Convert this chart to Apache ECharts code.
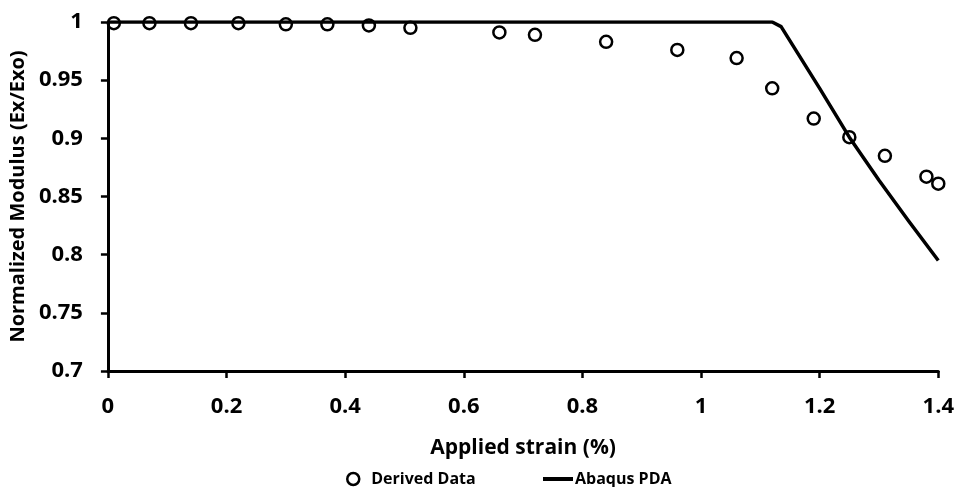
<!DOCTYPE html>
<html>
<head>
<meta charset="utf-8">
<script src="https://cdn.jsdelivr.net/npm/echarts@6/dist/echarts.min.js"></script>
<style>html,body{margin:0;padding:0;background:#fff;}#c{width:957px;height:487px;}</style>
</head>
<body>
<div id="c"></div>
<script>
const derivedX = [0.01, 0.07, 0.14, 0.22, 0.30, 0.37, 0.44, 0.51, 0.66, 0.72, 0.84, 0.96, 1.06, 1.12, 1.19, 1.25, 1.31, 1.38, 1.40];
const derivedY = [0.999, 0.999, 0.999, 0.999, 0.998, 0.998, 0.997, 0.995, 0.991, 0.989, 0.983, 0.976, 0.969, 0.943, 0.917, 0.901, 0.885, 0.867, 0.861];
const abaqusX = [0, 1.12, 1.135, 1.2, 1.25, 1.3, 1.35, 1.4];
const abaqusY = [1, 1, 0.996, 0.943, 0.901, 0.864, 0.829, 0.795];
const xTicks = [0, 0.2, 0.4, 0.6, 0.8, 1, 1.2, 1.4];
const yTicks = [0.7, 0.75, 0.8, 0.85, 0.9, 0.95, 1];

const FONT = '"Open Sans", "DejaVu Sans", sans-serif';
const chart = echarts.init(document.getElementById('c'), null, {renderer: 'canvas'});
chart.setOption({
  animation: false,
  backgroundColor: '#fff',
  grid: {left: 107, right: 18, top: 22, bottom: 116, containLabel: false},
  xAxis: {
    type: 'value', min: 0, max: 1.4, interval: 0.2,
    name: 'Applied strain (%)', nameLocation: 'middle', nameGap: 67,
    nameTextStyle: {fontFamily: FONT, fontWeight: 'bold', fontSize: 21, color: '#000'},
    axisLine: {show: true, onZero: false, lineStyle: {color: '#000', width: 3}},
    axisTick: {show: true, length: 7, lineStyle: {color: '#000', width: 2.5}},
    axisLabel: {fontFamily: FONT, fontWeight: 'bold', fontSize: 22, color: '#000', margin: 25,
      formatter: v => { const t = xTicks.find(k => Math.abs(k - v) < 1e-9); return t === undefined ? '' : String(t); }},
    splitLine: {show: false}
  },
  yAxis: {
    type: 'value', min: 0.7, max: 1, interval: 0.05,
    name: 'Normalized Modulus (Ex/Exo)', nameLocation: 'middle', nameGap: 75, nameRotate: 90,
    nameTextStyle: {fontFamily: FONT, fontWeight: 'bold', fontSize: 20, color: '#000'},
    axisLine: {show: true, onZero: false, lineStyle: {color: '#000', width: 3}},
    axisTick: {show: true, length: 7, lineStyle: {color: '#000', width: 2.5}},
    axisLabel: {fontFamily: FONT, fontWeight: 'bold', fontSize: 22, color: '#000', margin: 25,
      formatter: v => { const t = yTicks.find(k => Math.abs(k - v) < 1e-9); return t === undefined ? '' : String(t); }},
    splitLine: {show: false}
  },
  legend: [
    {data: [{name: 'Derived Data', icon: 'circle'}], left: 346, top: 471, padding: 0, itemWidth: 12, itemHeight: 12,
     itemStyle: {color: '#fff', borderColor: '#000', borderWidth: 2.5},
     textStyle: {fontFamily: FONT, fontWeight: 'bold', fontSize: 16, color: '#000', padding: [0,0,0,7]}},
    {data: [{name: 'Abaqus PDA', icon: 'rect'}], left: 543, top: 471, padding: 0, itemWidth: 30, itemHeight: 4,
     itemStyle: {color: '#000', borderWidth: 0},
     textStyle: {fontFamily: FONT, fontWeight: 'bold', fontSize: 16, color: '#000', padding: [0,0,0,-3]}}
  ],
  series: [
    {name: 'Abaqus PDA', type: 'line', showSymbol: false, symbol: 'none',
     data: abaqusX.map((x, i) => [x, abaqusY[i]]),
     lineStyle: {color: '#000', width: 3.5, join: 'round'}, itemStyle: {color: '#000'}, z: 2},
    {name: 'Derived Data', type: 'scatter', symbol: 'circle', symbolSize: 12,
     data: derivedX.map((x, i) => [x, derivedY[i]]),
     itemStyle: {color: 'rgba(255,255,255,0)', borderColor: '#000', borderWidth: 2.5, opacity: 1}, z: 3}
  ]
});
</script>
</body>
</html>
